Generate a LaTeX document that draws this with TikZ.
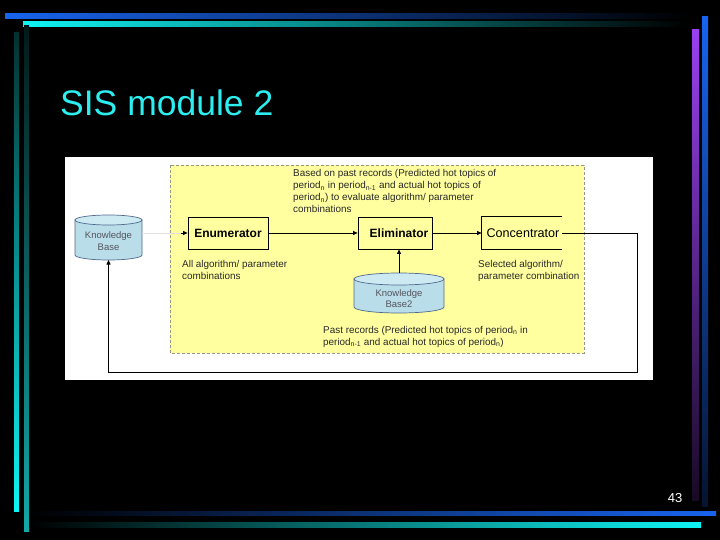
\documentclass[tikz,border=0pt]{standalone}
\usepackage{fontspec}
\setmainfont{Liberation Sans}
\usetikzlibrary{arrows.meta}
\definecolor{barblue}{RGB}{24,100,238}
\definecolor{barcyan}{RGB}{16,244,244}
\definecolor{barteal}{RGB}{20,168,168}
\definecolor{barpurple}{RGB}{154,64,240}
\definecolor{titlecyan}{RGB}{44,238,240}
\definecolor{diagyellow}{RGB}{255,255,160}
\definecolor{dashgray}{RGB}{150,150,130}
\definecolor{txtgray}{RGB}{40,40,40}
\definecolor{kbgray}{RGB}{85,85,95}
\definecolor{cylfill}{RGB}{185,221,233}
\definecolor{cyltop}{RGB}{205,234,243}
\definecolor{cylline}{RGB}{80,105,140}
\begin{document}
\begin{tikzpicture}[x=1pt,y=-1pt,
  procbox/.style={draw=black, line width=0.8pt, fill=diagyellow, minimum width=80pt,
    minimum height=32pt, inner sep=0pt, font=\fontsize{12}{14}\selectfont\bfseries},
  lbl/.style={anchor=base west, inner sep=0pt, font=\fontsize{9.9}{11}\selectfont, text=txtgray},
  kbt/.style={anchor=base, inner sep=0pt, font=\fontsize{9.5}{11}\selectfont, text=kbgray},
  conn/.style={draw=black, line width=0.8pt},
  arr/.style={conn, -{Triangle[length=4.5pt,width=4pt]}},
  cylstyle/.style={draw=cylline, line width=0.7pt, fill=cylfill},
  cyltopstyle/.style={draw=cylline, line width=0.7pt, fill=cyltop}]
\useasboundingbox (0,0) rectangle (720,540);
\fill[black] (0,0) rectangle (720,540);
% decorative bars
\shade[left color=barblue, middle color=barblue!75!black, right color=black] (5,14) rectangle (688,19);
\shade[left color=barcyan, middle color=barcyan!60!black, right color=black] (23,22) rectangle (688,27);
\shade[top color=barcyan!20!black, bottom color=barcyan] (14,33) rectangle (19,511);
\shade[top color=barteal!15!black, bottom color=barteal] (24,26) rectangle (29,531);
\shade[top color=barpurple, bottom color=barpurple!15!black] (692,30) rectangle (699,500);
\shade[top color=barblue, bottom color=barblue!20!black] (702,17) rectangle (708,506);
\shade[left color=black, middle color=barblue!75!black, right color=barblue] (30,511) rectangle (716,515);
\shade[left color=black, middle color=barteal, right color=barcyan] (30,522) rectangle (701,527);
% title
\node[anchor=base west, inner sep=0pt, text=titlecyan, font=\fontsize{35.5}{40}\selectfont] (title) at (60,116) {SIS module 2};
% page number
\node[anchor=base, inner sep=0pt, text=white, font=\fontsize{13}{15}\selectfont] (pagenum) at (675,502) {43};
% diagram background
\fill[white] (65,157) rectangle (653,380);
\draw[dashgray, dashed, dash pattern=on 3pt off 2pt, line width=0.6pt, fill=diagyellow] (170,165) rectangle (584,353);
% knowledge base 1
\filldraw[cylstyle] (75,220) -- (75,255) arc[start angle=180, end angle=0, x radius=33.5, y radius=5] -- (142,220) -- cycle;
\filldraw[cyltopstyle] (108.5,220) ellipse[x radius=33.5, y radius=5];
\node[kbt] (kb1a) at (108.5,238) {Knowledge};
\node[kbt] (kb1c) at (108.5,250) {Base};
\coordinate (kb1b) at (108.5,260);
\coordinate (kb1e) at (142,233);
% knowledge base 2
\filldraw[cylstyle] (354,279) -- (354,307) arc[start angle=180, end angle=0, x radius=45, y radius=6] -- (444,279) -- cycle;
\filldraw[cyltopstyle] (399,279) ellipse[x radius=45, y radius=6];
\node[kbt] (kb2a) at (399,296) {Knowledge};
\node[kbt] (kb2c) at (399,307) {Base2};
\coordinate (kb2t) at (399,273);
% process boxes
\node[procbox] (enum) at (228,233) {Enumerator};
\node[procbox, minimum width=74pt] (elim) at (395,233) {\hspace*{8pt}Eliminator};
\node[procbox, draw=none, font=\fontsize{12.6}{14}\selectfont] (conc) at (522,233) {\hspace*{2pt}Concentrator};
\draw[conn] (conc.north east) -- (conc.north west) -- (conc.south west) -- (conc.south east);
% texts
\node[lbl] (t1) at (293,177) {Based on past records (Predicted hot topics of};
\node[lbl] (t2) at (293,189) {period\textsubscript{n} in period\textsubscript{n-1} and actual hot topics of};
\node[lbl] (t3) at (293,201) {period\textsubscript{n}) to evaluate algorithm/ parameter};
\node[lbl] (t4) at (293,213) {combinations};
\node[lbl] (a1) at (182,267) {All algorithm/ parameter};
\node[lbl] (a2) at (182,279) {combinations};
\node[lbl] (s1) at (478,267) {Selected algorithm/};
\node[lbl] (s2) at (478,279) {parameter combination};
\node[lbl] (p1) at (323,333) {Past records (Predicted hot topics of period\textsubscript{n} in};
\node[lbl] (p2) at (323,345) {period\textsubscript{n-1} and actual hot topics of period\textsubscript{n})};
% connectors
\coordinate (enin) at (181,233);
\coordinate (fbr) at (637,372);
\draw[gray!25, line width=0.6pt] (kb1e) -- (enin);
\draw[arr] (enin) -- (enum.west);
\draw[arr] (enum.east) -- (elim.west);
\draw[arr] (elim.east) -- (conc.west);
\draw[arr] (kb2t) -- (kb2t |- elim.south);
\draw[arr] (conc.east) -| (fbr) -| (kb1b);
\end{tikzpicture}
\end{document}
